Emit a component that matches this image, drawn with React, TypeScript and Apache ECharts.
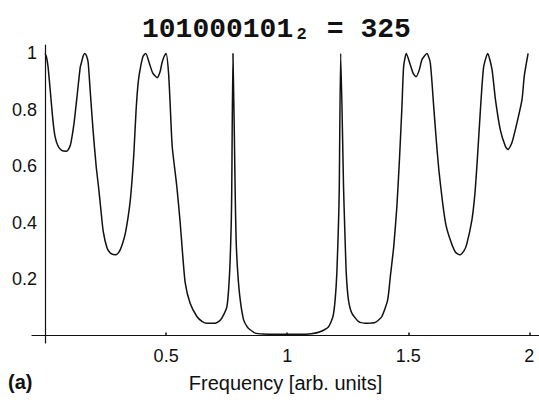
import React, { useEffect, useRef } from "react";
import * as echarts from "echarts";

const titleText = "101000101\u2082 = 325";
const panelLabel = "(a)";
const xAxisName = "Frequency [arb. units]";
const xTickValues = [0.5, 1, 1.5, 2];
const yTickValues = [0.2, 0.4, 0.6, 0.8, 1];

const freq = [
  0.0, 0.005, 0.012, 0.021, 0.032, 0.041, 0.054, 0.07, 0.088, 0.1, 0.107, 0.12, 0.132, 0.145, 0.15, 0.157, 0.164, 0.171,
  0.178, 0.186, 0.198, 0.211, 0.221, 0.23, 0.24, 0.256, 0.27, 0.292, 0.305, 0.318, 0.331, 0.343, 0.352, 0.36, 0.367,
  0.376, 0.385, 0.395, 0.405, 0.416, 0.43, 0.445, 0.463, 0.475, 0.483, 0.492, 0.5, 0.51, 0.517, 0.525, 0.544, 0.558,
  0.567, 0.579, 0.599, 0.627, 0.648, 0.668, 0.702, 0.718, 0.73, 0.751, 0.762, 0.769, 0.771, 0.776, 0.785, 0.789, 0.796,
  0.806, 0.82, 0.835, 0.847, 0.868, 0.9, 0.95, 1.0, 1.05, 1.1, 1.136, 1.171, 1.189, 1.198, 1.205, 1.212, 1.215, 1.221,
  1.233, 1.237, 1.244, 1.253, 1.267, 1.295, 1.329, 1.364, 1.391, 1.415, 1.426, 1.44, 1.453, 1.464, 1.474, 1.481, 1.492,
  1.508, 1.52, 1.532, 1.545, 1.557, 1.577, 1.591, 1.605, 1.615, 1.626, 1.642, 1.656, 1.677, 1.695, 1.713, 1.73, 1.741,
  1.763, 1.775, 1.785, 1.798, 1.811, 1.828, 1.846, 1.86, 1.88, 1.901, 1.912, 1.928, 1.949, 1.97, 1.979, 1.995,
];

const transmission = [
  1.0, 0.99, 0.955, 0.872, 0.766, 0.706, 0.671, 0.655, 0.653, 0.665, 0.684, 0.755, 0.848, 0.95, 0.967, 0.99, 1.0, 0.992,
  0.968, 0.872, 0.73, 0.6, 0.525, 0.45, 0.37, 0.31, 0.292, 0.286, 0.295, 0.321, 0.36, 0.42, 0.48, 0.56, 0.65,
  0.8, 0.9, 0.955, 0.99, 1.0, 0.967, 0.93, 0.914, 0.935, 0.967, 0.99, 1.0, 0.931, 0.813, 0.671, 0.529, 0.4,
  0.3, 0.185, 0.114, 0.067, 0.05, 0.043, 0.043, 0.05, 0.061, 0.102, 0.22, 0.4, 0.517, 1.0, 0.517, 0.34, 0.22,
  0.126, 0.055, 0.03, 0.02, 0.008, 0.005, 0.004, 0.004, 0.004, 0.006, 0.013, 0.031, 0.067, 0.126, 0.22, 0.4, 0.517, 1.0,
  0.517, 0.4, 0.22, 0.126, 0.079, 0.049, 0.043, 0.046, 0.067, 0.126, 0.209, 0.315, 0.457, 0.63, 0.813, 0.955, 1.0,
  0.961, 0.93, 0.917, 0.94, 0.979, 1.0, 0.967, 0.813, 0.7, 0.59, 0.47, 0.39, 0.33, 0.295, 0.286, 0.3, 0.322,
  0.41, 0.5, 0.62, 0.8, 0.95, 1.0, 0.943, 0.837, 0.73, 0.671, 0.659, 0.683, 0.754, 0.837, 0.919, 1.0,
];

export default function App() {
  const ref = useRef<HTMLDivElement>(null);
  useEffect(() => {
    if (!ref.current) return;
    const chart = echarts.init(ref.current, null, { renderer: "svg" });
    const data = freq.map((f, i) => [f, transmission[i]]);
    chart.setOption({
      animation: false,
      backgroundColor: "#ffffff",
      title: [
        {
          text: titleText,
          left: 142,
          top: 15,
          padding: 0,
          textStyle: {
            fontFamily: "'Liberation Mono', 'DejaVu Sans Mono', monospace",
            fontWeight: "bold",
            fontSize: 28,
            color: "#111",
          },
        },
        {
          text: panelLabel,
          left: 8,
          top: 372,
          padding: 0,
          textStyle: {
            fontFamily: "'Liberation Sans', Arial, sans-serif",
            fontWeight: "bold",
            fontSize: 20,
            color: "#111",
          },
        },
      ],
      grid: { left: 32, right: 0, top: 45, bottom: 57, containLabel: false, outerBoundsMode: "none" },
      xAxis: {
        type: "value",
        min: -0.054,
        max: 2.04,
        name: xAxisName,
        nameLocation: "middle",
        nameGap: 30,
        nameTextStyle: {
          fontFamily: "'Liberation Sans', Arial, sans-serif",
          fontSize: 20,
          color: "#111",
        },
        axisLine: { onZero: true, lineStyle: { color: "#111", width: 1.2 } },
        axisTick: { show: true, inside: true, length: 3, customValues: xTickValues, lineStyle: { color: "#111", width: 1.5 } },
        axisLabel: {
          customValues: xTickValues,
          margin: 4,
          fontFamily: "'Liberation Sans', Arial, sans-serif",
          fontSize: 18,
          color: "#111",
          formatter: (v: number) => String(v),
        },
        splitLine: { show: false },
      },
      yAxis: {
        type: "value",
        min: -0.027,
        max: 1.03,
        axisLine: { show: true, onZero: true, lineStyle: { color: "#111", width: 1.2 } },
        axisTick: { show: false },
        axisLabel: {
          customValues: yTickValues,
          margin: -5,
          padding: [4, 0, 0, 0],
          fontFamily: "'Liberation Sans', Arial, sans-serif",
          fontSize: 18,
          color: "#111",
          formatter: (v: number) => String(v),
        },
        splitLine: { show: false },
      },
      series: [
        {
          type: "line",
          data,
          showSymbol: false,
          symbol: "none",
          smooth: 0.2,
          lineStyle: { color: "#111", width: 1.5 },
          clip: false,
        },
      ],
    });
    return () => chart.dispose();
  }, []);
  return <div ref={ref} style={{ width: 539, height: 400, position: "fixed", left: 0, top: 0 }} />;
}
